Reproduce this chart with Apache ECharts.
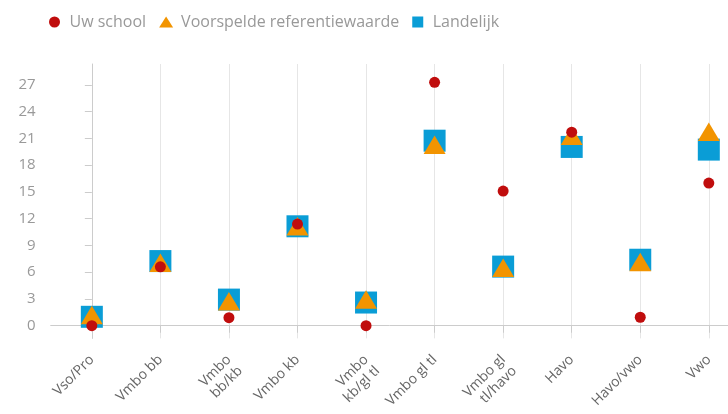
<!DOCTYPE html>
<html>
<head>
<meta charset="utf-8">
<script src="https://cdn.jsdelivr.net/npm/echarts@6/dist/echarts.min.js"></script>
<style>
html,body{margin:0;padding:0;background:#fff;}
#chart{width:728px;height:414px;}
</style>
</head>
<body>
<div id="chart"></div>
<script>
var categories = ['Vso/Pro', 'Vmbo bb', 'Vmbo\nbb/kb', 'Vmbo kb', 'Vmbo\nkb/gl tl', 'Vmbo gl tl', 'Vmbo gl\ntl/havo', 'Havo', 'Havo/vwo', 'Vwo'];
var uwSchool = [0, 6.6, 0.9, 11.4, 0, 27.3, 15.1, 21.7, 0.95, 16.0];
var voorspeld = [1.2, 7.05, 2.75, 11.15, 2.93, 20.3, 6.5, 21.3, 7.15, 21.75];
var landelijk = [1.0, 7.25, 2.93, 11.15, 2.6, 20.75, 6.63, 20.05, 7.4, 19.75];
var yTicks = [0, 3, 6, 9, 12, 15, 18, 21, 24, 27];
var seriesNames = ['Uw school', 'Voorspelde referentiewaarde', 'Landelijk'];

function pairs(arr) { return arr.map(function (v, i) { return [i, v]; }); }
var catIdx = categories.map(function (c, i) { return i; });

var FONT = '"Open Sans", sans-serif';
var chart = echarts.init(document.getElementById('chart'));
chart.setOption({
  animation: false,
  textStyle: { fontFamily: FONT },
  legend: {
    top: 9, left: 44,
    itemWidth: 14, itemHeight: 11, itemGap: 13,
    textStyle: { color: '#999', fontSize: 16, fontFamily: FONT, padding: [0, 0, 0, 3] },
    data: [
      { name: seriesNames[0], icon: 'circle' },
      { name: seriesNames[1], icon: 'triangle' },
      { name: seriesNames[2], icon: 'path://M0,0h10v10h-10z' }
    ]
  },
  grid: { left: 50.7, right: 0, top: 64, bottom: 75.3, containLabel: false },
  xAxis: {
    type: 'value', min: -0.6, max: 9.28,
    axisLine: { show: true, lineStyle: { color: '#ccc', width: 1 } },
    axisTick: { show: true, length: 7, customValues: catIdx, lineStyle: { color: '#ccc' } },
    splitLine: { show: true, lineStyle: { color: '#e6e6e6', width: 1 } },
    axisLabel: {
      customValues: catIdx, rotate: 45, margin: 19,
      color: '#666', fontSize: 14, fontFamily: FONT, lineHeight: 16,
      formatter: function (v) {
        var s = categories[Math.round(v)];
        return s.indexOf('\n') >= 0 ? '\n' + s : s;
      }
    }
  },
  yAxis: {
    type: 'value', min: -1.42, max: 29.35,
    axisLine: { show: true, lineStyle: { color: '#ccc', width: 1 } },
    axisTick: { show: true, length: 7, customValues: yTicks, lineStyle: { color: '#ccc' } },
    splitLine: { show: false },
    axisLabel: { customValues: yTicks, color: '#999', fontSize: 15, fontFamily: FONT, margin: 15 }
  },
  series: [
    { name: seriesNames[2], type: 'scatter', z: 2, symbol: 'rect', symbolSize: 22,
      itemStyle: { color: '#0a9dd6', opacity: 1 }, data: pairs(landelijk) },
    { name: seriesNames[1], type: 'scatter', z: 3, symbol: 'triangle', symbolSize: [22, 18.5],
      itemStyle: { color: '#f29400', opacity: 1 }, data: pairs(voorspeld) },
    { name: seriesNames[0], type: 'scatter', z: 4, symbol: 'circle', symbolSize: 11,
      itemStyle: { color: '#c00d0d', opacity: 1 }, data: pairs(uwSchool) }
  ]
});
</script>
</body>
</html>
